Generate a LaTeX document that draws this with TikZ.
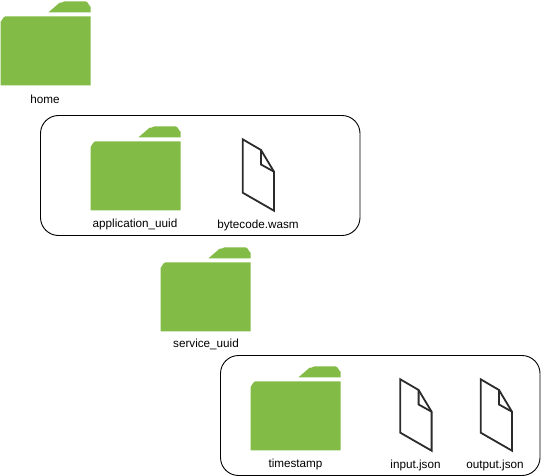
\documentclass[tikz,border=0pt]{standalone}
\usepackage{fontspec}
\setmainfont{Liberation Sans}
\definecolor{foldergreen}{HTML}{82BB46}
\definecolor{fileline}{HTML}{2B2B2B}
\tikzset{
	folderbody/.style={fill=foldergreen, draw=none},
	fileicon/.style={draw=fileline, line width=1.8pt, line join=miter, fill=white},
	groupbox/.style={draw=black, line width=0.9pt, rounded corners=18pt},
	caption/.style={font=\fontsize{11.7}{13}\selectfont, inner sep=0pt, text=black},
}
\begin{document}
\begin{tikzpicture}[x=1pt, y=-1pt]
	\useasboundingbox (0,0) rectangle (541,476);
	
	% Group boxes
	\draw[groupbox] (40.5,115.5) rectangle (360,235.5);
	\draw[groupbox] (220.5,355.5) rectangle (540,475.5);
	
	% Folders
	\foreach \fx/\fy in {0.5/0.3, 90.5/125.3, 160.5/246.3, 250.5/365.3}{
		\begin{scope}[shift={(\fx,\fy)}]
		\fill[folderbody] (0,85) -- (0,21) to[out=-90,in=180] (5,16) -- (90,16) -- (90,85) -- cycle;
		\fill[folderbody] (48,12) -- (59,2.5) to[out=-40,in=180] (64,1) -- (85,1)
		to[out=0,in=-90] (90,6) -- (90,12) -- cycle;
		\end{scope}
	}
	
	% Files
	\foreach \fx/\fy in {0/0, 157.6/240, 238/240}{
		\begin{scope}[shift={(\fx,\fy)}]
		\draw[fileicon] (242.7,139.3) -- (261,150) -- (274,171.7) -- (274,210.7)
		-- (242.7,192.7) -- cycle;
		\draw[fileicon, fill=none] (261,150) -- (261,164.5) -- (274,171.7);
		\end{scope}
	}
	
	% Labels
	\node[caption] (home) at (45,99) {home};
	\node[caption] (application) at (135,224.5) {application\_uuid};
	\node[caption] (bytecode) at (258,225.5) {bytecode.wasm};
	\node[caption] (service) at (206,344.5) {service\_uuid};
	\node[caption] (timestamp) at (295.5,464.5) {timestamp};
	\node[caption] (input) at (415.5,465.5) {input.json};
	\node[caption] (output) at (495,465.5) {output.json};
\end{tikzpicture}
\end{document}
